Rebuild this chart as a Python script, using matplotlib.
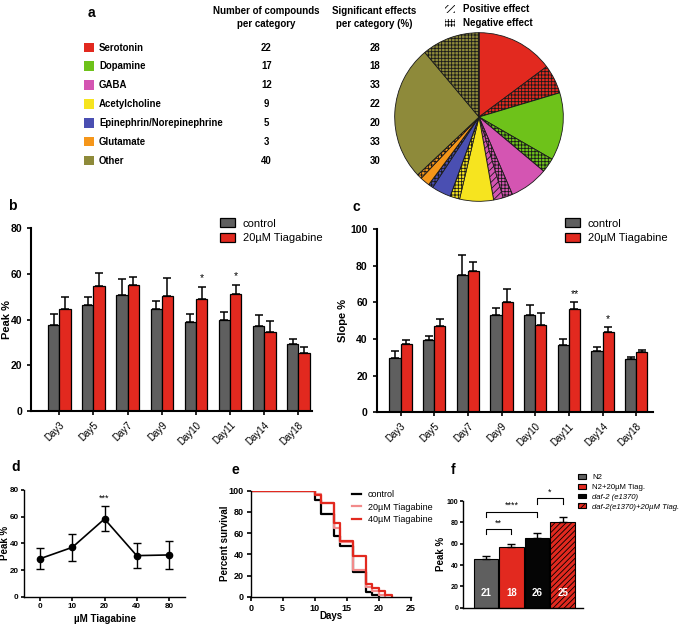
import numpy as np
import matplotlib
matplotlib.use("Agg")
import matplotlib.pyplot as plt
from matplotlib.patches import Rectangle

plt.rcParams['font.family'] = ['Liberation Sans', 'DejaVu Sans']
plt.rcParams['hatch.linewidth'] = 0.6
plt.rcParams['axes.linewidth'] = 1.2
plt.rcParams['xtick.major.width'] = 1.2
plt.rcParams['ytick.major.width'] = 1.2
plt.rcParams['xtick.major.size'] = 3
plt.rcParams['ytick.major.size'] = 3

# ---------------- data ----------------
categories = ['Serotonin', 'Dopamine', 'GABA', 'Acetylcholine',
              'Epinephrin/Norepinephrine', 'Glutamate', 'Other']
n_compounds = [22, 17, 12, 9, 5, 3, 40]
pct_significant = [28, 18, 33, 22, 20, 33, 30]
n_positive = [0, 0, 2, 0, 0, 0, 0]
cat_colors = ['#e2291f', '#6ec21a', '#d455b2', '#f6e41f', '#4a4fb2', '#f5961a', '#8e8a3a']

days = ['Day3', 'Day5', 'Day7', 'Day9', 'Day10', 'Day11', 'Day14', 'Day18']
peak_ctrl = [37.5, 46.6, 50.7, 44.7, 39.1, 39.7, 37.2, 29.3]
peak_ctrl_sem = [5.1, 3.4, 7.0, 3.6, 3.5, 3.7, 4.8, 2.1]
peak_tiag = [44.7, 54.8, 55.2, 50.5, 49.2, 51.1, 34.6, 25.5]
peak_tiag_sem = [5.1, 5.5, 3.4, 7.6, 5.3, 4.2, 4.8, 2.4]
peak_stars = ['', '', '', '', '*', '*', '', '']

slope_ctrl = [29.7, 39.5, 75.0, 53.3, 53.2, 36.9, 33.5, 29.0]
slope_ctrl_sem = [4.0, 2.2, 11.1, 3.5, 5.4, 3.3, 2.3, 1.2]
slope_tiag = [37.2, 47.0, 77.2, 60.3, 47.5, 56.3, 43.9, 33.1]
slope_tiag_sem = [2.5, 4.0, 5.1, 7.2, 6.6, 3.8, 2.9, 1.1]
slope_stars = ['', '', '', '', '', '**', '*', '']

conc_labels = ['0', '10', '20', '40', '80']
dose_peak = [28.5, 37.0, 58.3, 30.8, 31.3]
dose_sem = [7.8, 10.1, 9.4, 9.4, 10.6]
dose_stars = ['', '', '***', '', '']

surv_ctrl_days = [0, 10, 11, 13, 14, 16, 18, 19, 20]
surv_ctrl = [100, 91, 78, 57, 48, 23, 4, 2, 0]
surv_20_days = [0, 10, 11, 13, 14, 16, 18, 19, 20, 21]
surv_20 = [100, 97, 88, 65, 52, 25, 9, 5, 2, 0]
surv_40_days = [0, 10, 11, 13, 14, 16, 18, 19, 20, 21, 22]
surv_40 = [100, 96, 88, 70, 53, 38, 12, 8, 5, 2, 0]

strains = ['N2', 'N2+20µM Tiag.', 'daf-2 (e1370)', 'daf-2(e1370)+20µM Tiag.']
strain_peak = [45.6, 56.6, 65.0, 80.0]
strain_sem = [2.4, 3.4, 4.7, 4.7]
strain_n = [21, 18, 26, 25]
strain_colors = ['#5f5f5f', '#e2291f', '#050505', '#e2291f']
strain_hatch = ['', '', '', '//////']
sig_pairs = [(0, 1, '**', 69, 73.8), (0, 2, '****', 85, 90), (2, 3, '*', 97, 102.5)]

GRAY = '#5f5f5f'
RED = '#e2291f'

W, H = 685, 624
fig = plt.figure(figsize=(6.85, 6.24), dpi=100)


def px_axes(x0, y0, x1, y1, **kw):
    return fig.add_axes([x0 / W, 1 - y1 / H, (x1 - x0) / W, (y1 - y0) / H], **kw)


def style(ax):
    ax.spines['top'].set_visible(False)
    ax.spines['right'].set_visible(False)


# overlay in pixel coordinates
ov = fig.add_axes([0, 0, 1, 1], zorder=-1)
ov.set_xlim(0, W)
ov.set_ylim(H, 0)
ov.set_axis_off()

# ---------------- panel a ----------------
ov.text(88, 13, 'a', fontsize=10, fontweight='bold', va='center', ha='left')
ov.text(266, 11, 'Number of compounds', fontsize=7, fontweight='bold', ha='center', va='center')
ov.text(266, 24, 'per category', fontsize=7, fontweight='bold', ha='center', va='center')
ov.text(374.5, 11, 'Significant effects', fontsize=7, fontweight='bold', ha='center', va='center')
ov.text(374.5, 24, 'per category (%)', fontsize=7, fontweight='bold', ha='center', va='center')
row_y = [47.7, 66.3, 85.3, 104.3, 123, 141.7, 160.7]
for i, cat in enumerate(categories):
    y = row_y[i]
    ov.add_patch(Rectangle((84, y - 5), 10, 9.5, facecolor=cat_colors[i], edgecolor='none'))
    ov.text(99, y, cat, fontsize=6.9, fontweight='bold', va='center', ha='left')
    ov.text(266.5, y, str(n_compounds[i]), fontsize=6.9, fontweight='bold', va='center', ha='center')
    ov.text(375, y, str(pct_significant[i]), fontsize=6.9, fontweight='bold', va='center', ha='center')

ov.add_patch(Rectangle((445, 5), 10, 8, facecolor='white', edgecolor='black', lw=0.0, hatch='/////'))
ov.add_patch(Rectangle((445, 19), 10, 8, facecolor='white', edgecolor='black', lw=0.0, hatch='+++++'))
ov.text(463, 9, 'Positive effect', fontsize=7, fontweight='bold', va='center', ha='left')
ov.text(463, 23, 'Negative effect', fontsize=7, fontweight='bold', va='center', ha='left')

# pie
axp = px_axes(393, 31, 565, 203)
vals, cols, hatches = [], [], []
for i in range(len(categories)):
    sig = int(round(n_compounds[i] * pct_significant[i] / 100.0))
    pos = n_positive[i]
    neg = sig - pos
    vals += [n_compounds[i] - sig, neg, pos]
    cols += [cat_colors[i]] * 3
    hatches += ['', '+++++', '/////']
wedges, _ = axp.pie(vals, colors=cols, startangle=90, counterclock=False, radius=1.0,
                    wedgeprops=dict(edgecolor='#1a1a1a', linewidth=0.6))
for wdg, h in zip(wedges, hatches):
    wdg.set_hatch(h)
axp.set_xlim(-1.02, 1.02)
axp.set_ylim(-1.02, 1.02)
axp.set_aspect('equal')


# ---------------- panels b and c ----------------
def grouped(ax, ctrl, csem, tiag, tsem, stars, ymax, ylabel, xlim, ylab_x):
    x = np.arange(len(days))
    w = 0.33
    ekw = dict(elinewidth=1.1, capthick=1.1, ecolor='black')
    ax.bar(x - w / 2, ctrl, w, color=GRAY, edgecolor='black', linewidth=0.9,
           yerr=[np.zeros(len(ctrl)), csem], capsize=3, error_kw=ekw, label='control')
    ax.bar(x + w / 2, tiag, w, color=RED, edgecolor='black', linewidth=0.9,
           yerr=[np.zeros(len(tiag)), tsem], capsize=3, error_kw=ekw, label='20µM Tiagabine')
    for i, s in enumerate(stars):
        if s:
            ax.text(x[i] + w / 2, tiag[i] + tsem[i] + 1.5, s, ha='center', va='bottom', fontsize=7.5)
    ax.set_ylim(0, ymax)
    ax.set_xlim(*xlim)
    ax.set_yticks(np.arange(0, ymax + 1, 20))
    ax.set_xticks(x)
    ax.set_xticklabels(days, rotation=45, ha='right', rotation_mode='anchor', fontsize=7)
    ax.tick_params(axis='y', labelsize=7.5)
    for t in ax.get_yticklabels():
        t.set_fontweight('bold')
    ax.set_ylabel(ylabel, fontsize=8, fontweight='bold')
    ax.yaxis.set_label_coords(ylab_x, 0.5)
    ax.spines['left'].set_linewidth(1.5)
    ax.spines['bottom'].set_linewidth(1.5)
    style(ax)


axb = px_axes(31, 228.3, 311.7, 411)
grouped(axb, peak_ctrl, peak_ctrl_sem, peak_tiag, peak_tiag_sem, peak_stars, 80, 'Peak %',
        (-0.83, 7.39), (12 - 31) / 280.7)
axb.legend(loc='upper left', bbox_to_anchor=(220 / W, 1 - 218.5 / H), bbox_transform=fig.transFigure,
           frameon=False, fontsize=8, handlelength=1.35, handleheight=0.85, handletextpad=0.7,
           labelspacing=0.35, borderpad=0, borderaxespad=0)
fig.text(8 / W, 1 - 206 / H, 'b', fontsize=10, fontweight='bold', va='center')

axc = px_axes(376.7, 229.3, 652.7, 412.3)
grouped(axc, slope_ctrl, slope_ctrl_sem, slope_tiag, slope_tiag_sem, slope_stars, 100, 'Slope %',
        (-0.71, 7.49), (348 - 376.7) / 276)
axc.legend(loc='upper left', bbox_to_anchor=(565 / W, 1 - 218.5 / H), bbox_transform=fig.transFigure,
           frameon=False, fontsize=8, handlelength=1.35, handleheight=0.85, handletextpad=0.7,
           labelspacing=0.35, borderpad=0, borderaxespad=0)
fig.text(353 / W, 1 - 207 / H, 'c', fontsize=10, fontweight='bold', va='center')

# ---------------- panel d ----------------
axd = px_axes(24, 490, 185, 596.7)
xd = np.arange(len(conc_labels))
axd.errorbar(xd, dose_peak, yerr=dose_sem, color='black', marker='o', markersize=4.5,
             linewidth=1.2, elinewidth=1.0, capsize=3, capthick=1.0)
for i, s in enumerate(dose_stars):
    if s:
        axd.text(xd[i], dose_peak[i] + dose_sem[i] + 2.5, s, ha='center', va='bottom', fontsize=6.5)
axd.set_xlim(-0.5, 4.5)
axd.set_ylim(0, 80)
axd.set_yticks([0, 20, 40, 60, 80])
axd.set_xticks(xd)
axd.set_xticklabels(conc_labels)
axd.tick_params(labelsize=5.8, pad=1.5)
axd.tick_params(axis='y', length=2.5)
for t in axd.get_xticklabels() + axd.get_yticklabels():
    t.set_fontweight('bold')
axd.set_ylabel('Peak %', fontsize=7, fontweight='bold')
axd.yaxis.set_label_coords((9.5 - 24) / 161, 0.5)
axd.set_xlabel('µM Tiagabine', fontsize=7, fontweight='bold')
axd.xaxis.set_label_coords(0.5, (596.7 - 614) / 106.7)
axd.spines['left'].set_linewidth(1.0)
axd.spines['bottom'].set_linewidth(1.0)
style(axd)
fig.text(11 / W, 1 - 467 / H, 'd', fontsize=10, fontweight='bold', va='center')

# ---------------- panel e ----------------
axe = px_axes(250.7, 490.7, 410.7, 596.7)
axe.step(surv_ctrl_days, surv_ctrl, where='post', color='black', lw=1.6, label='control')
axe.step(surv_20_days, surv_20, where='post', color='#f28b8b', lw=1.6, label='20µM Tiagabine')
axe.step(surv_40_days, surv_40, where='post', color='#e2291f', lw=1.6, label='40µM Tiagabine')
axe.set_xlim(0, 25)
axe.set_ylim(0, 100)
axe.set_xticks([0, 5, 10, 15, 20, 25])
axe.set_yticks([0, 20, 40, 60, 80, 100])
axe.tick_params(labelsize=6.5, pad=2)
for t in axe.get_xticklabels() + axe.get_yticklabels():
    t.set_fontweight('bold')
axe.set_ylabel('Percent survival', fontsize=7, fontweight='bold')
axe.yaxis.set_label_coords((230 - 250.7) / 160, 0.5)
axe.set_xlabel('Days', fontsize=7, fontweight='bold')
axe.xaxis.set_label_coords(0.5, (596.7 - 611) / 106)
axe.spines['left'].set_linewidth(1.0)
axe.spines['bottom'].set_linewidth(1.0)
style(axe)
axe.legend(loc='upper left', bbox_to_anchor=(351.5 / W, 1 - 490 / H), bbox_transform=fig.transFigure,
           frameon=False, fontsize=6.5, handlelength=1.1, handletextpad=0.7,
           labelspacing=0.4, borderpad=0, borderaxespad=0)
fig.text(232 / W, 1 - 470 / H, 'e', fontsize=10, fontweight='bold', va='center')

# ---------------- panel f ----------------
axf = px_axes(463, 501, 583, 607.7)
xf = np.arange(len(strains))
for i in range(len(strains)):
    axf.bar(xf[i], strain_peak[i], 0.96, color=strain_colors[i], edgecolor='black', linewidth=0.8,
            hatch=strain_hatch[i], yerr=[[0], [strain_sem[i]]], capsize=3,
            error_kw=dict(elinewidth=1.0, capthick=1.0, ecolor='black'), label=strains[i])
    axf.text(xf[i], 14, str(strain_n[i]), color='white', fontsize=7, fontweight='bold',
             ha='center', va='center')
for a, b, s, y0, y1 in sig_pairs:
    axf.plot([xf[a], xf[a], xf[b], xf[b]], [y0, y1, y1, y0], color='black', lw=0.8, clip_on=False)
    axf.text((xf[a] + xf[b]) / 2, y1 + 1.5, s, ha='center', va='bottom', fontsize=6.5, clip_on=False)
axf.set_xlim(-0.89, 3.79)
axf.set_ylim(0, 100)
axf.set_yticks([0, 20, 40, 60, 80, 100])
axf.set_xticks([])
axf.tick_params(labelsize=5, pad=1, length=2.5)
for t in axf.get_yticklabels():
    t.set_fontweight('bold')
axf.set_ylabel('Peak %', fontsize=7, fontweight='bold')
axf.yaxis.set_label_coords((446 - 463) / 120, 0.5)
axf.spines['left'].set_linewidth(1.0)
axf.spines['bottom'].set_linewidth(1.0)
style(axf)
legf = axf.legend(loc='upper left', bbox_to_anchor=(578 / W, 1 - 474 / H), bbox_transform=fig.transFigure,
                  frameon=False, fontsize=5.6, handlelength=1.0, handleheight=0.55, handletextpad=0.8,
                  labelspacing=0.35, borderpad=0, borderaxespad=0)
for t in legf.get_texts()[2:]:
    t.set_style('italic')
fig.text(451 / W, 1 - 470 / H, 'f', fontsize=10, fontweight='bold', va='center')

fig.savefig('out.png', dpi=100)
